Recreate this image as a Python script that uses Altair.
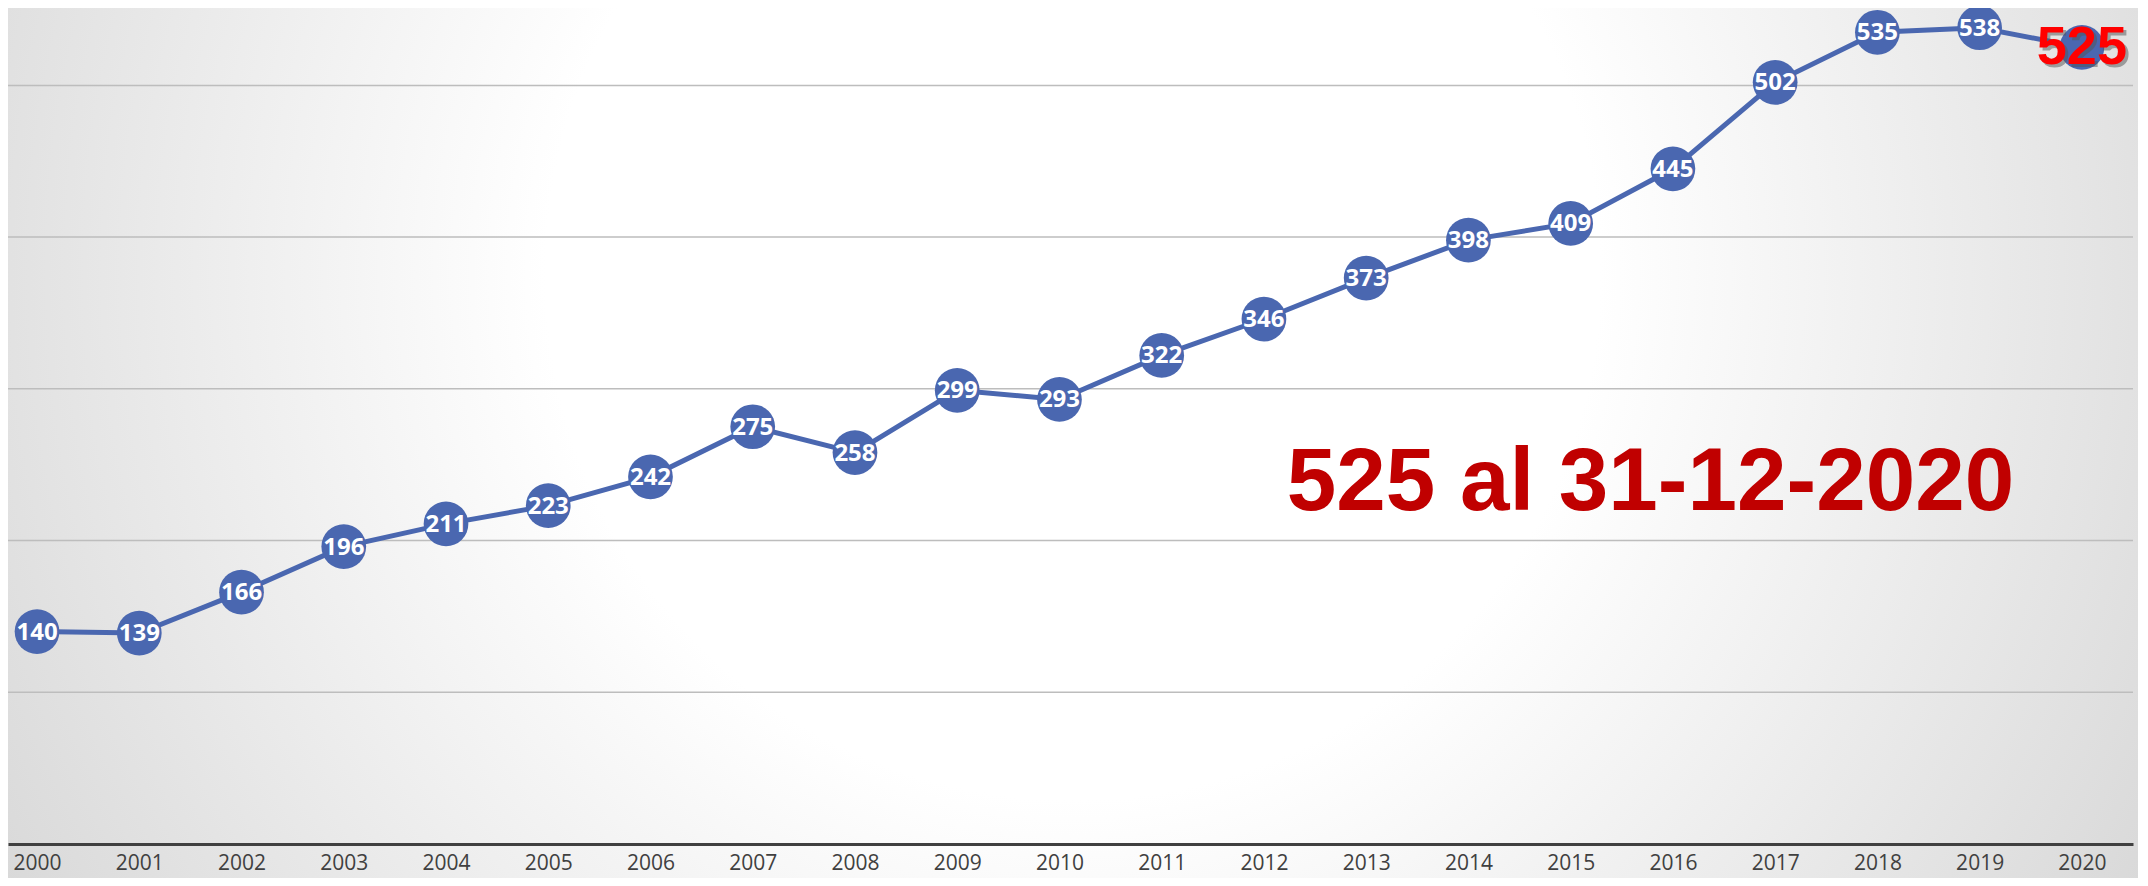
import altair as alt
import pandas as pd

years = [2000, 2001, 2002, 2003, 2004, 2005, 2006, 2007, 2008, 2009, 2010,
         2011, 2012, 2013, 2014, 2015, 2016, 2017, 2018, 2019, 2020]
values = [140, 139, 166, 196, 211, 223, 242, 275, 258, 299, 293,
          322, 346, 373, 398, 409, 445, 502, 535, 538, 525]
tick_years = years
grid_values = [100, 200, 300, 400, 500]
annotation = "525 al 31-12-2020"

df = pd.DataFrame({"year": years, "value": values})
grid_df = pd.DataFrame({"g": grid_values})

W, H = 2125, 836
SVG_W, SVG_H = 2130, 870

xs = alt.Scale(domain=[1999.716, 2020.5], nice=False, zero=False)
ys = alt.Scale(domain=[0, 551], nice=False, zero=True)

BLUE = "#4A67B0"

bg = alt.Chart(pd.DataFrame({"k": [0]})).mark_rect(
    color=alt.Gradient(
        gradient="radial",
        stops=[
            alt.GradientStop(color="#ffffff", offset=0),
            alt.GradientStop(color="#ffffff", offset=0.33),
            alt.GradientStop(color="#c5c5c5", offset=1),
        ],
        x1=0.5, y1=0.42, r1=0,
        x2=0.5, y2=0.42, r2=0.75,
    ),
    clip=False,
).encode(
    x=alt.value(0), x2=alt.value(SVG_W),
    y=alt.value(0), y2=alt.value(SVG_H),
)

grid = alt.Chart(grid_df).mark_rule(color="#bdbdbd", strokeWidth=1.5).encode(
    y=alt.Y("g:Q", scale=ys, axis=None),
    x=alt.value(0), x2=alt.value(W),
)

base = alt.Chart(df)

x_enc = alt.X(
    "year:Q", scale=xs,
    axis=alt.Axis(
        values=tick_years, format="d", title=None, grid=False,
        ticks=False, domain=True, domainColor="#404040", domainWidth=3,
        labelFont="Open Sans", labelFontSize=21, labelColor="#404040",
        labelPadding=8, labelFlush=False, zindex=1,
    ),
)
y_enc = alt.Y("value:Q", scale=ys, axis=None)

line = base.mark_line(color=BLUE, strokeWidth=5).encode(x=x_enc, y=y_enc)

points = base.mark_circle(color=BLUE, size=2000, opacity=1).encode(
    x=alt.X("year:Q", scale=xs), y=alt.Y("value:Q", scale=ys)
)

labels = base.transform_filter(alt.datum.year < 2020).mark_text(
    color="white", font="Open Sans", fontWeight="bold", fontSize=24,
    baseline="middle", align="center", dy=1,
).encode(
    x=alt.X("year:Q", scale=xs), y=alt.Y("value:Q", scale=ys),
    text=alt.Text("value:Q"),
)

last_shadow = base.transform_filter(alt.datum.year == 2020).mark_text(
    color="#555555", opacity=0.5, font="Liberation Sans", fontWeight="bold",
    fontSize=54, baseline="middle", align="center", dx=3, dy=4,
).encode(
    x=alt.X("year:Q", scale=xs), y=alt.Y("value:Q", scale=ys),
    text=alt.Text("value:Q"),
)

last_label = base.transform_filter(alt.datum.year == 2020).mark_text(
    color="#ff0000", font="Liberation Sans", fontWeight="bold",
    fontSize=54, baseline="middle", align="center", dy=1,
).encode(
    x=alt.X("year:Q", scale=xs), y=alt.Y("value:Q", scale=ys),
    text=alt.Text("value:Q"),
)

note = alt.Chart(pd.DataFrame({"t": [annotation]})).mark_text(
    color="#C00000", font="Liberation Sans",
    fontWeight="bold", fontSize=89, align="center", baseline="alphabetic",
).encode(
    x=alt.datum(2015.78, scale=xs), y=alt.datum(220, scale=ys),
    text="t:N",
)

chart = alt.layer(bg, grid, line, points, labels, last_shadow, last_label, note).properties(
    width=W, height=H,
    padding={"left": 0, "top": 0, "right": SVG_W - W, "bottom": SVG_H - H},
    autosize=alt.AutoSizeParams(type="none"),
    background="#d6d6d6",
).configure_view(stroke=None)

chart.save("out.html", embed_options={"renderer": "svg", "actions": False})
